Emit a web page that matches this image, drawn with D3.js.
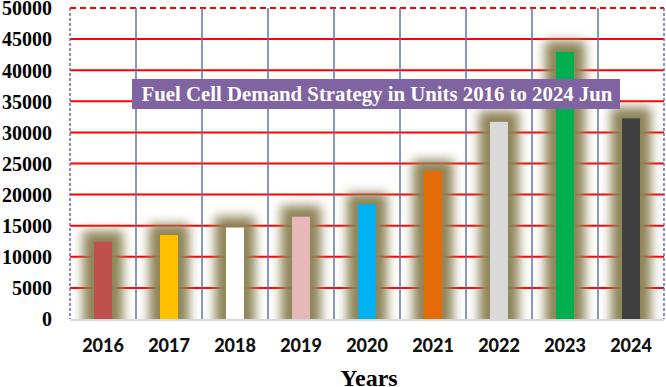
<!DOCTYPE html>
<html><head><meta charset="utf-8">
<script src="https://cdn.jsdelivr.net/npm/d3@7/dist/d3.min.js"></script>
<style>html,body{margin:0;padding:0;background:#fff;}svg{display:block;}</style>
</head><body>
<svg id="c" width="666" height="387"></svg>
<script>
const years = ["2016","2017","2018","2019","2020","2021","2022","2023","2024"];
const units = [12400, 13500, 14700, 16450, 18450, 23800, 31700, 42950, 32250];
const yTicks = [0,5000,10000,15000,20000,25000,30000,35000,40000,45000,50000];
const barColors = ["#C0504D","#FFC000","#FFFFFF","#E6B8B7","#00B0F0","#E36C09","#D9D9D9","#00B050","#404040"];
const titleText = "Fuel Cell Demand Strategy in Units 2016 to 2024 Jun";
const xTitle = "Years";

const svg = d3.select("#c");
const L = 70, R = 664, T = 8, B = 319;
const x = d3.scaleBand().domain(years).range([L, R]).paddingInner(0).paddingOuter(0);
const y = d3.scaleLinear().domain([0, 50000]).range([B, T]);
const bw = 18;

const defs = svg.append("defs");
const f = defs.append("filter").attr("id","glow").attr("x","-200%").attr("y","-50%").attr("width","500%").attr("height","200%");
f.append("feMorphology").attr("in","SourceAlpha").attr("operator","dilate").attr("radius","11").attr("result","d");
f.append("feGaussianBlur").attr("in","d").attr("stdDeviation","5.5").attr("result","b");
f.append("feFlood").attr("flood-color","#8E8457").attr("result","fc");
f.append("feComposite").attr("in","fc").attr("in2","b").attr("operator","in");
defs.append("clipPath").attr("id","pc").append("rect").attr("x",L).attr("y",0).attr("width",R-L).attr("height",B-0);

// horizontal gridlines
svg.append("g").selectAll("line").data(yTicks.filter(t => t > 0 && t < 50000)).join("line")
  .attr("x1", L).attr("x2", R).attr("y1", d => y(d)).attr("y2", d => y(d))
  .attr("stroke","#FF0000").attr("stroke-width",2);
// top border dashed red
svg.append("line").attr("x1",L).attr("x2",R).attr("y1",y(50000)).attr("y2",y(50000))
  .attr("stroke","#FF0000").attr("stroke-width",2).attr("stroke-dasharray","6,4");

// glow layer
svg.append("g").attr("clip-path","url(#pc)").selectAll("rect").data(years).join("rect")
  .attr("x", d => x(d) + x.bandwidth()/2 - bw/2)
  .attr("y", (d,i) => y(units[i]))
  .attr("width", bw)
  .attr("height", (d,i) => B - y(units[i]))
  .attr("fill","#000")
  .attr("filter","url(#glow)");

// vertical gridlines
const vx = years.map(d => x(d)).slice(1);
svg.append("g").selectAll("line").data(vx).join("line")
  .attr("x1", d => d).attr("x2", d => d).attr("y1", T).attr("y2", B)
  .attr("stroke","#5F74A8").attr("stroke-width",1.5);
// left/right dashed borders
[L, R].forEach(v => svg.append("line").attr("x1",v).attr("x2",v).attr("y1",T).attr("y2",B)
  .attr("stroke","#6A6FB0").attr("stroke-width",1.5).attr("stroke-dasharray","3,2"));

// bars
svg.append("g").selectAll("rect").data(years).join("rect")
  .attr("x", d => x(d) + x.bandwidth()/2 - bw/2)
  .attr("y", (d,i) => y(units[i]))
  .attr("width", bw)
  .attr("height", (d,i) => B - y(units[i]))
  .attr("fill", (d,i) => barColors[i]);

// x axis line
svg.append("line").attr("x1",L).attr("x2",R).attr("y1",B+1).attr("y2",B+1)
  .attr("stroke","#D9D9D9").attr("stroke-width",2);

// y axis labels
const yAxis = d3.axisLeft(y).tickValues(yTicks).tickFormat(d3.format("d")).tickSize(0).tickPadding(0);
const ya = svg.append("g").attr("transform",`translate(52,0)`).call(yAxis);
ya.select(".domain").remove();
ya.selectAll("text").attr("font-family","'Liberation Serif','Times New Roman',serif")
  .attr("font-weight","bold").attr("font-size","20px").attr("fill","#000").attr("dy","0.34em");

// x axis labels
const xAxis = d3.axisBottom(x).tickSize(0).tickPadding(0);
const xa = svg.append("g").attr("transform",`translate(0,339)`).call(xAxis);
xa.select(".domain").remove();
xa.selectAll("text").attr("font-family","Lato,'Open Sans',sans-serif")
  .attr("font-weight","900").attr("font-size","18px").attr("fill","#111").attr("dy","0.71em");

// x title
svg.append("text").attr("x",369).attr("y",386).attr("text-anchor","middle")
  .attr("font-family","'Liberation Serif','Times New Roman',serif").attr("font-weight","bold")
  .attr("font-size","24px").text(xTitle);

// title box
svg.append("rect").attr("x",132).attr("y",79).attr("width",488).attr("height",30).attr("fill","#8064A2");
svg.append("text").attr("x",377).attr("y",101).attr("text-anchor","middle")
  .attr("font-family","'Liberation Serif','Times New Roman',serif").attr("font-weight","bold")
  .attr("font-size","20.8px").attr("fill","#fff").text(titleText);
</script>
</body></html>
